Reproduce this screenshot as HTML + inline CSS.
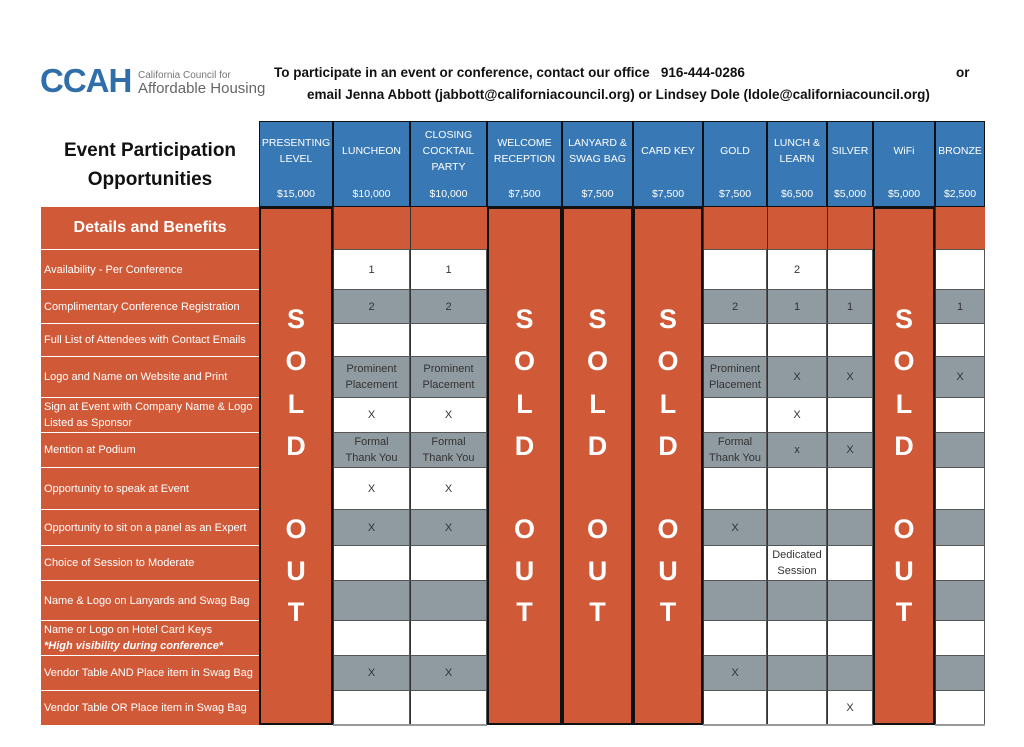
<!DOCTYPE html>
<html><head><meta charset="utf-8"><style>
body{margin:0;width:1024px;height:747px;background:#fff;position:relative;overflow:hidden;font-family:"Liberation Sans",sans-serif}
.a{position:absolute;box-sizing:border-box}
.c{display:flex;align-items:center;justify-content:center;text-align:center}
.t{font-size:11px;color:#333;line-height:16px}
.h{font-size:10.5px;color:#fff;line-height:16px}
.lab{color:#fff;font-size:11px;line-height:16px;padding-left:3px;display:flex;align-items:center}
.big{color:#fff;font-weight:bold;font-size:27px;width:100%;text-align:center}
</style></head><body>
<div class="a" style="left:40px;top:62px;font-size:33px;font-weight:bold;color:#2f6ea8;letter-spacing:-1px">CCAH</div>
<div class="a" style="left:138px;top:70px;font-size:10px;color:#777">California Council for</div>
<div class="a" style="left:138px;top:80px;font-size:15px;color:#666">Affordable Housing</div>
<div class="a" style="left:274px;top:65px;font-size:13.5px;font-weight:bold;color:#111">To participate in an event or conference, contact our office&nbsp;&nbsp; 916-444-0286</div>
<div class="a" style="left:956px;top:65px;font-size:13.5px;font-weight:bold;color:#111">or</div>
<div class="a" style="left:307px;top:87px;font-size:13.5px;font-weight:bold;color:#111">email Jenna Abbott (jabbott@californiacouncil.org) or Lindsey Dole (ldole@californiacouncil.org)</div>
<div class="a c" style="left:41px;top:135px;width:218px;height:60px;font-size:19px;font-weight:bold;line-height:29px;color:#111">Event Participation<br>Opportunities</div>
<div id="g"></div>
<script>
var X=[259,333,410,487,562,633,703,767,827,873,935,985];
var Y=[249,289,323,356,397,432,467,509,545,580,620,655,690,725];
var H=[["PRESENTING<br>LEVEL","$15,000"],["LUNCHEON","$10,000"],["CLOSING<br>COCKTAIL<br>PARTY","$10,000"],["WELCOME<br>RECEPTION","$7,500"],["LANYARD &amp;<br>SWAG BAG","$7,500"],["CARD KEY","$7,500"],["GOLD","$7,500"],["LUNCH &amp;<br>LEARN","$6,500"],["SILVER","$5,000"],["WiFi","$5,000"],["BRONZE","$2,500"]];
var L=["Availability - Per Conference","Complimentary Conference Registration","Full List of Attendees with Contact Emails","Logo and Name on Website and Print","Sign at Event with Company Name &amp; Logo<br>Listed as Sponsor","Mention at Podium","Opportunity to speak at Event","Opportunity to sit on a panel as an Expert","Choice of Session to Moderate","Name &amp; Logo on Lanyards and Swag Bag","Name or Logo on Hotel Card Keys<br><b><i>*High visibility during conference*</i></b>","Vendor Table AND Place item in Swag Bag","Vendor Table OR Place item in Swag Bag"];
var PP="Prominent<br>Placement",FT="Formal<br>Thank You";
var D={1:["1","2","",PP,"X",FT,"X","X","","","","X",""],2:["1","2","",PP,"X",FT,"X","X","","","","X",""],6:["","2","",PP,"",FT,"","X","","","","X",""],7:["2","1","","X","X","x","","","Dedicated<br>Session","","","",""],8:["","1","","X","","X","","","","","","","X"],10:["","1","","X","","","","","","","","",""]};
var sold=[0,3,4,5,9];var s="";
s+='<div class="a" style="left:41px;top:207px;width:218px;height:518px;background:#d05a38"></div>';
s+='<div class="a c" style="left:41px;top:207px;width:218px;height:42px;color:#fff;font-weight:bold;font-size:16px">Details and Benefits</div>';
for(var r=0;r<13;r++){s+='<div class="a lab" style="left:41px;top:'+Y[r]+'px;width:218px;height:'+(Y[r+1]-Y[r])+'px;border-top:1.5px solid #fff"><span>'+L[r]+'</span></div>';}
for(var i=0;i<11;i++){var x=X[i],w=X[i+1]-x;var so=sold.indexOf(i)>=0;
 s+='<div class="a" style="left:'+x+'px;top:121px;width:'+w+'px;height:86px;background:#3778b5;border:1px solid #111"></div>';
 s+='<div class="a c h" style="left:'+x+'px;top:124px;width:'+w+'px;height:54px">'+H[i][0]+'</div>';
 s+='<div class="a c h" style="left:'+x+'px;top:186px;width:'+w+'px;height:16px">'+H[i][1]+'</div>';
 if(so){s+='<div class="a" style="left:'+x+'px;top:207px;width:'+w+'px;height:518px;background:#d05a38;border:2px solid #111"></div>';
  var lt=[["S",320],["O",362],["L",405],["D",447],["O",530],["U",572],["T",613]];
  for(var k=0;k<7;k++)s+='<div class="a big" style="left:'+x+'px;width:'+w+'px;top:'+(lt[k][1]-16)+'px">'+lt[k][0]+'</div>';
 }else{
  s+='<div class="a" style="left:'+x+'px;top:207px;width:'+w+'px;height:42px;background:#d05a38;border-left:1px solid #333"></div>';
  for(var r=0;r<13;r++){var bg=r%2?'#8f9aa1':'#fff';s+='<div class="a c t" style="left:'+x+'px;top:'+Y[r]+'px;width:'+w+'px;height:'+(Y[r+1]-Y[r])+'px;background:'+bg+';border-left:1px solid #333;border-top:1px solid #555;border-right:1px solid #555"><span>'+D[i][r]+'</span></div>';}
  s+='<div class="a" style="left:'+x+'px;top:724px;width:'+w+'px;height:2px;background:#999"></div>';
 }}
document.getElementById('g').innerHTML=s;
</script>
</body></html>
